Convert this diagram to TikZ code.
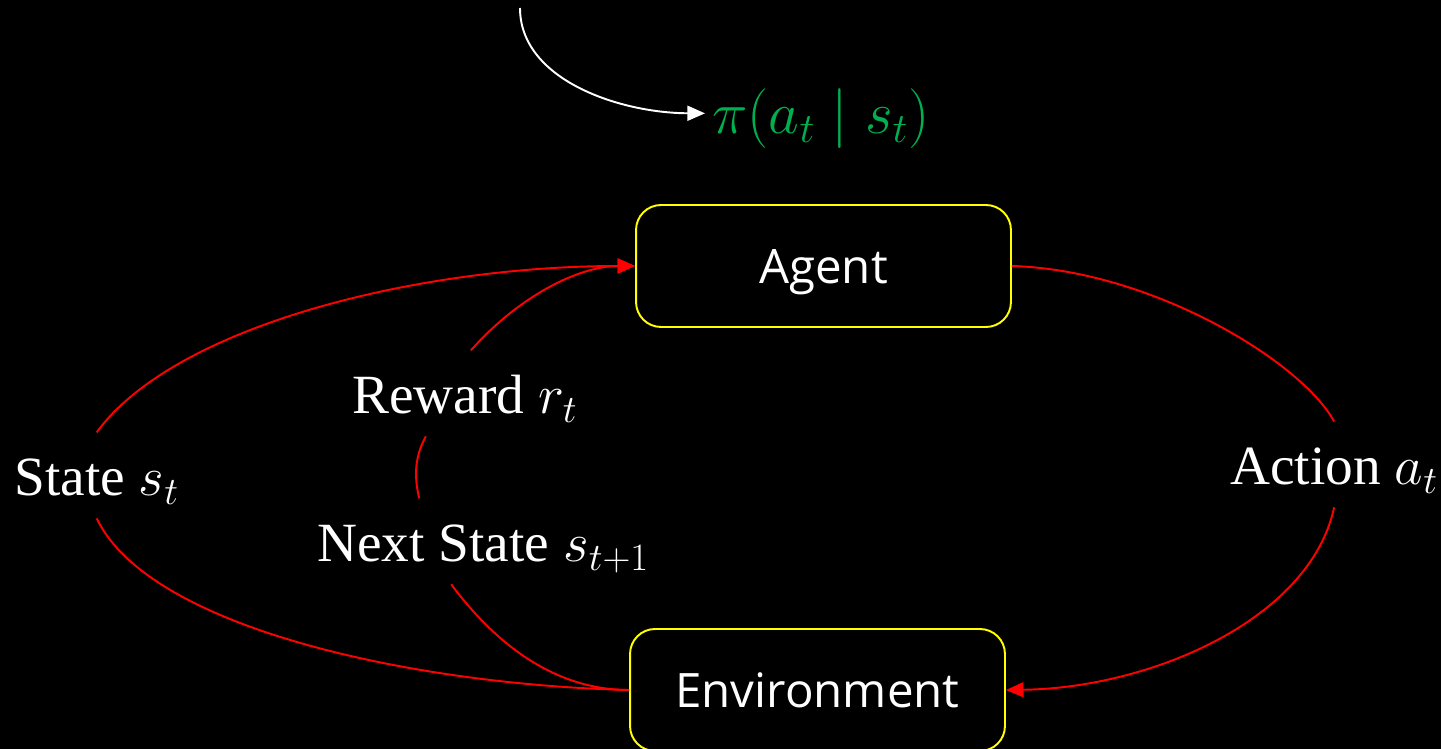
\RequirePackage{fix-cm}
\documentclass[tikz,border=0pt]{standalone}
\usepackage{amsmath,amssymb}
\usepackage{fontspec}
\setmainfont{Liberation Serif}
\newfontfamily\boxfont{Open Sans}
\usepackage{xcolor}
\usetikzlibrary{arrows.meta,calc}
\definecolor{polgreen}{HTML}{00B050}
\definecolor{boxyellow}{HTML}{FFFF00}
\tikzset{
  box/.style={draw=boxyellow, line width=1.1pt, rounded corners=0.5cm,
    minimum width=7.5cm, minimum height=2.44cm, text=white,
    text height=20pt, text depth=0pt,
    font=\boxfont\fontsize{27}{31}\selectfont},
  lbl/.style={text=white, anchor=base west, inner xsep=4pt, inner ysep=4pt,
    text height=32pt, text depth=8.5pt, font=\fontsize{31.5}{36}\selectfont},
  link/.style={red, line width=1.1pt},
  tip/.style={-{Triangle[length=10pt,width=8.5pt]}},
}
\begin{document}
\begin{tikzpicture}[x=0.02cm,y=-0.02cm]
\useasboundingbox (0,0) rectangle (1441,749);
\fill[black] (0,0) rectangle (1441,749);
\node[box] (agent) at (823.5,266) {Agent};
\node[box] (env) at (817.5,690) {Environment};
\node[lbl] (state) at (7,496) {State \(s_t\)};
\node[lbl] (reward) at (345,414) {Reward \(r_t\)};
\node[lbl] (next) at (310,562) {Next State \(s_{t+1}\)};
\node[lbl] (action) at (1223,485) {Action \(a_t\)};
\node[lbl, text=polgreen, font=\fontsize{34}{40}\selectfont] (policy) at (705,134) {\(\pi(a_t\mid s_t)\)};
\coordinate (pin) at (520,8);
\draw[white, line width=1.1pt, tip] (pin) .. controls (520,80) and (620,113) .. (policy.west);
\draw[link, tip] (state.north) .. controls (175,325) and (420,266) .. (agent.west);
\draw[link, tip] ($(reward.north)+(6,0)$) .. controls (520,295) and (580,266) .. (agent.west);
\draw[link] ($(reward.south)+(-39,0)$) .. controls (413,460) and (415,480) .. ($(next.north)+(-64,0)$);
\draw[link] ($(next.south)+(-32,0)$) .. controls (500,650) and (560,690) .. (env.west);
\draw[link] (state.south) .. controls (150,630) and (420,685) .. (env.west);
\draw[link] (agent.east) .. controls (1150,270) and (1300,360) .. (action.north);
\draw[link, tip] (action.south) .. controls (1310,620) and (1150,688) .. (env.east);
\end{tikzpicture}
\end{document}
